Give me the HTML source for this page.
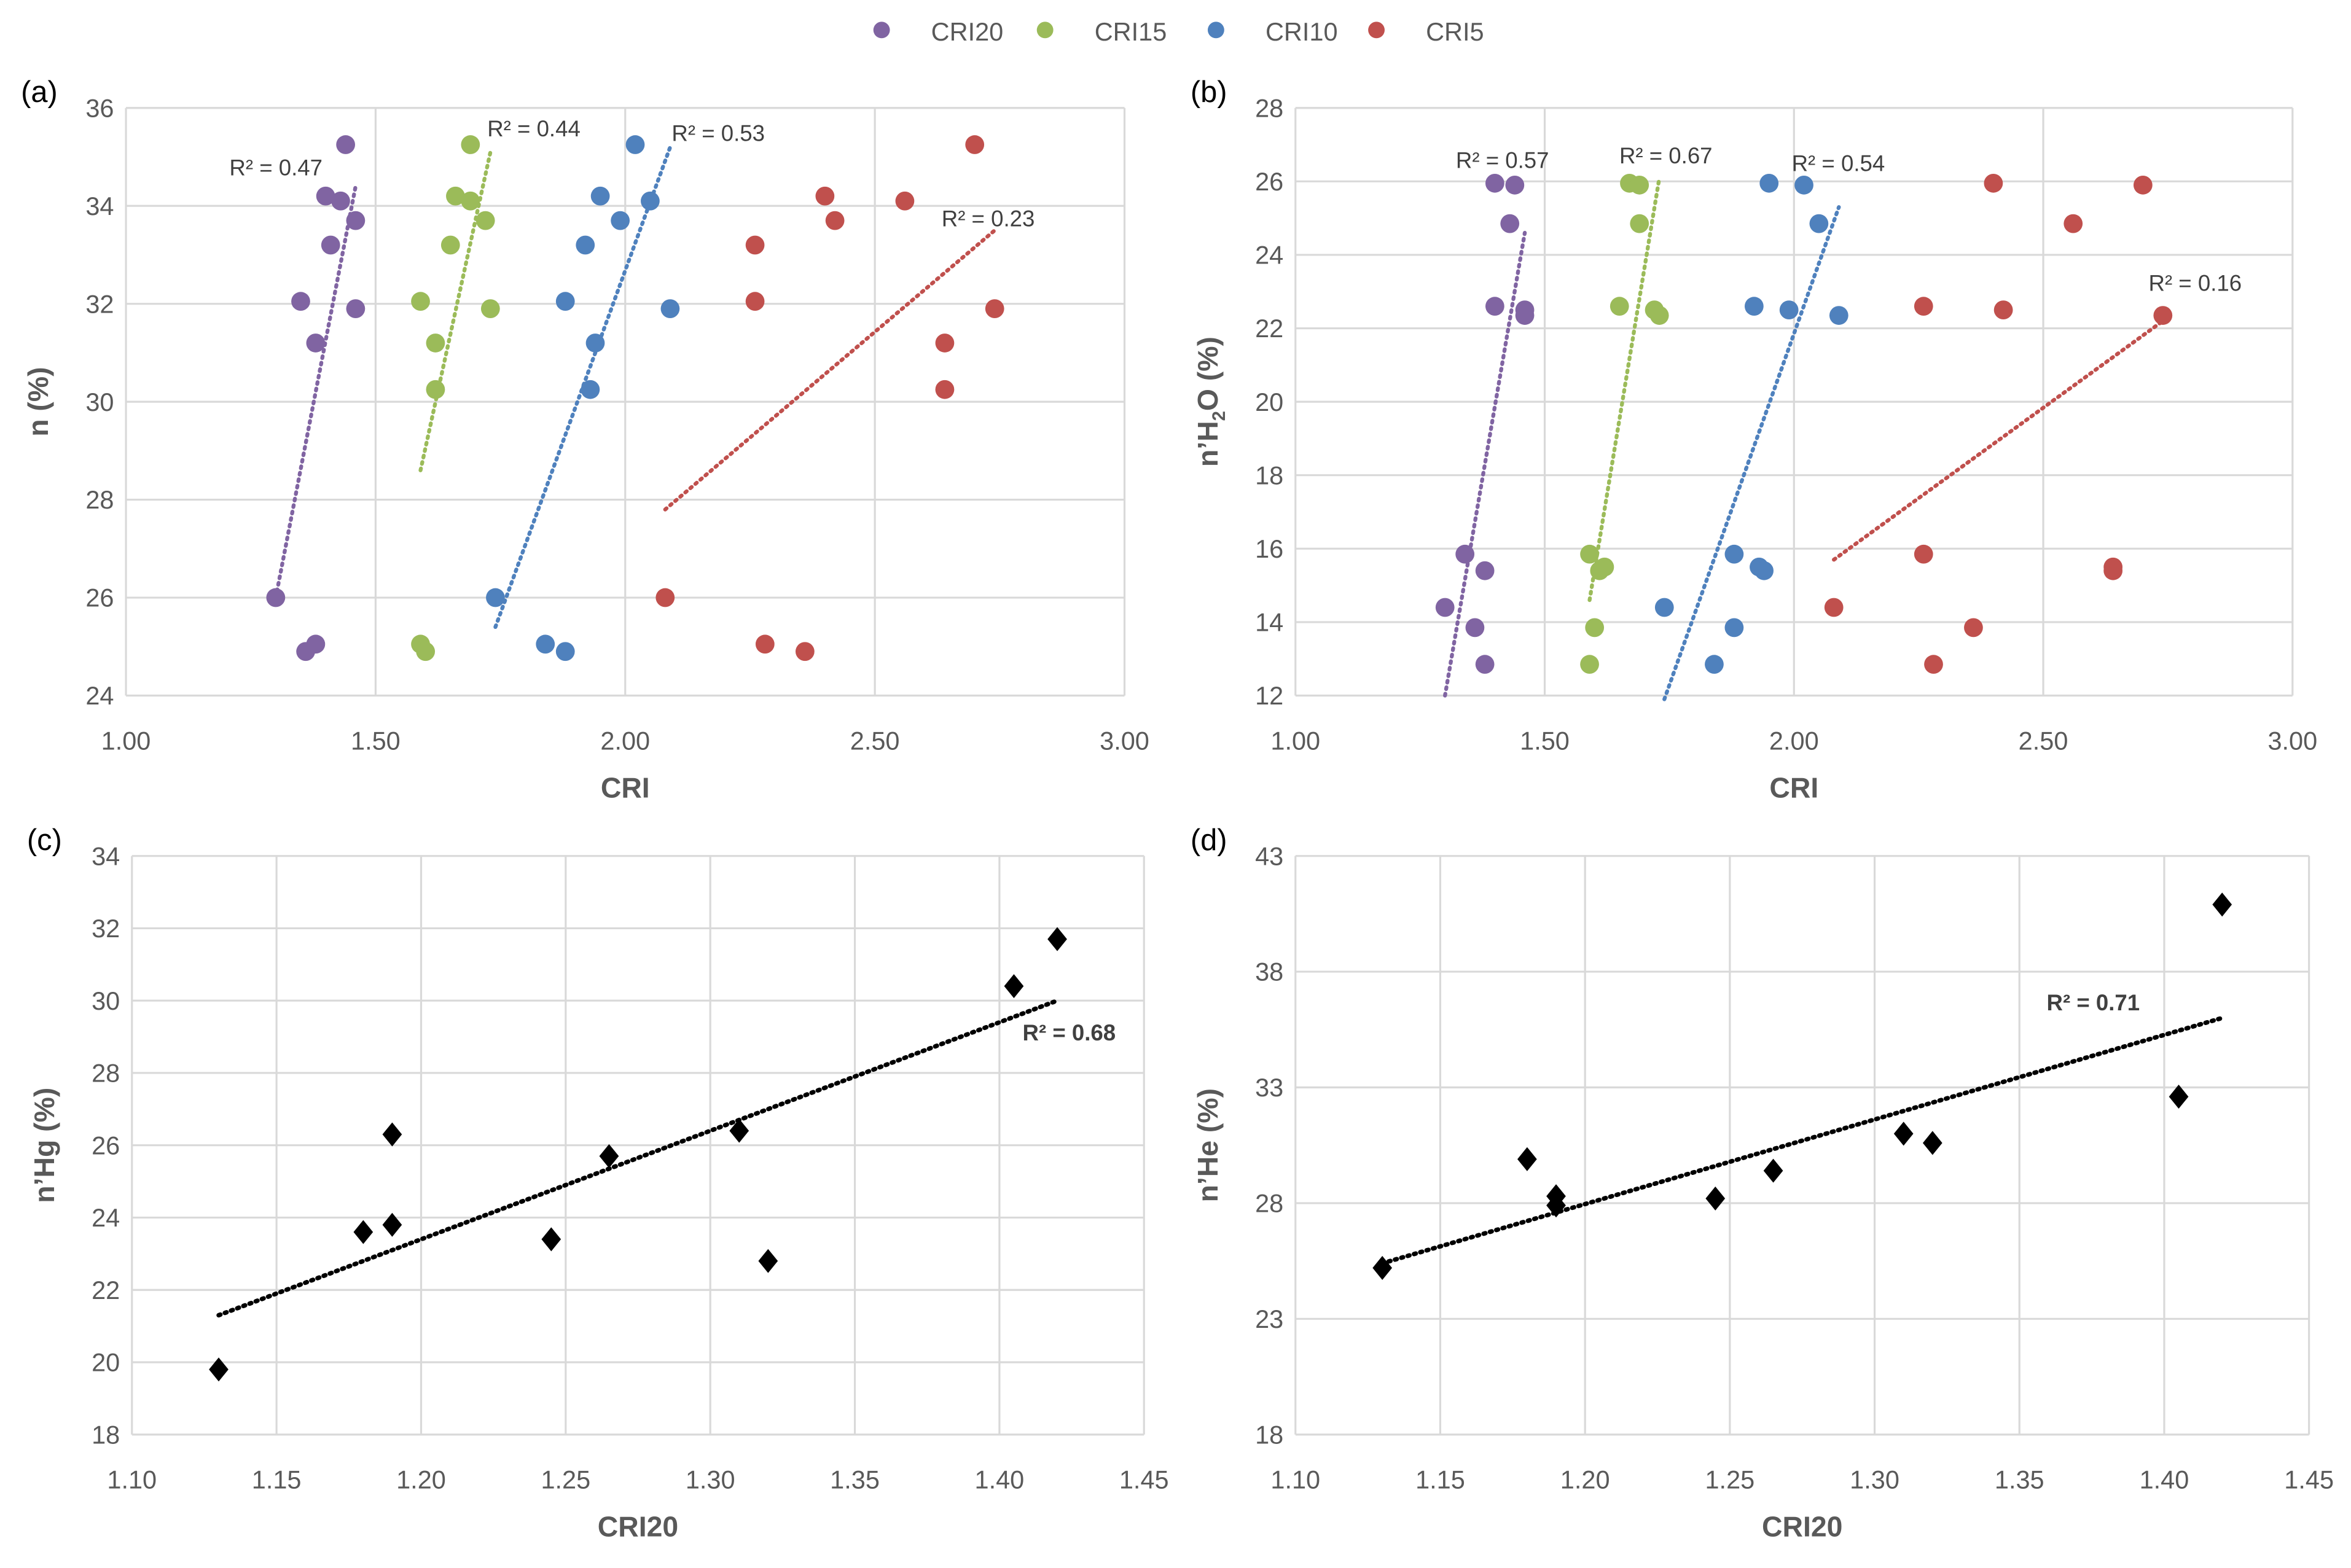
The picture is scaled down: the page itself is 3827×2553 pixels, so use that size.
<!DOCTYPE html>
<html><head><meta charset="utf-8">
<style>
html,body{margin:0;padding:0;background:#fff;}
svg{display:block;font-family:"Liberation Sans",sans-serif;}
.tick{fill:#595959;font-size:17px;}
.ttl{fill:#595959;font-size:19px;font-weight:bold;}
.r2{fill:#404040;font-size:15px;}
</style></head>
<body>
<svg id="fig" width="3827" height="2553" viewBox="0 0 1568 1046" xmlns="http://www.w3.org/2000/svg">
<g id="legend"></g>
</svg>
<script>
// ---- Panel (a) data: CRI vs n (%) ----
const aX20=[1.44,1.40,1.43,1.46,1.41,1.35,1.46,1.38,1.30,1.38,1.36];
const aY20=[35.25,34.2,34.1,33.7,33.2,32.05,31.9,31.2,26.0,25.05,24.9];
const aX15=[1.69,1.66,1.69,1.72,1.65,1.59,1.73,1.62,1.62,1.59,1.60];
const aY15=[35.25,34.2,34.1,33.7,33.2,32.05,31.9,31.2,30.25,25.05,24.9];
const aX10=[2.02,1.95,2.05,1.99,1.92,1.88,2.09,1.94,1.93,1.74,1.84,1.88];
const aY10=[35.25,34.2,34.1,33.7,33.2,32.05,31.9,31.2,30.25,26.0,25.05,24.9];
const aX5=[2.70,2.40,2.56,2.42,2.26,2.26,2.74,2.64,2.64,2.08,2.28,2.36];
const aY5=[35.25,34.2,34.1,33.7,33.2,32.05,31.9,31.2,30.25,26.0,25.05,24.9];
const aTrend=[[1.30,26.0,1.46,34.4],[1.59,28.6,1.73,35.1],[1.74,25.4,2.09,35.2],[2.08,27.8,2.74,33.5]];
const aR2=["R² = 0.47","R² = 0.44","R² = 0.53","R² = 0.23"];
// ---- Panel (b) data: CRI vs n'H2O (%) ----
const bX20=[1.40,1.44,1.43,1.40,1.46,1.46,1.34,1.38,1.30,1.36,1.38];
const bY20=[25.95,25.9,24.85,22.6,22.5,22.35,15.85,15.4,14.4,13.85,12.85];
const bX15=[1.67,1.69,1.69,1.65,1.72,1.73,1.59,1.61,1.62,1.60,1.59];
const bY15=[25.95,25.9,24.85,22.6,22.5,22.35,15.85,15.4,15.5,13.85,12.85];
const bX10=[1.95,2.02,2.05,1.92,1.99,2.09,1.88,1.93,1.94,1.74,1.88,1.84];
const bY10=[25.95,25.9,24.85,22.6,22.5,22.35,15.85,15.5,15.4,14.4,13.85,12.85];
const bX5=[2.40,2.70,2.56,2.26,2.42,2.74,2.26,2.64,2.64,2.08,2.36,2.28];
const bY5=[25.95,25.9,24.85,22.6,22.5,22.35,15.85,15.5,15.4,14.4,13.85,12.85];
const bTrend=[[1.30,12.0,1.46,24.6],[1.59,14.6,1.73,26.1],[1.74,11.9,2.09,25.3],[2.08,15.7,2.74,22.2]];
const bR2=["R² = 0.57","R² = 0.67","R² = 0.54","R² = 0.16"];
// ---- Panel (c) data: CRI20 vs n'Hg ----
const cX=[1.13,1.18,1.19,1.19,1.245,1.265,1.31,1.32,1.405,1.42];
const cY=[19.8,23.6,23.8,26.3,23.4,25.7,26.4,22.8,30.4,31.7];
const cTrend=[1.13,21.3,1.42,30.0];
// ---- Panel (d) data: CRI20 vs n'He ----
const dX=[1.13,1.18,1.19,1.19,1.245,1.265,1.31,1.32,1.405,1.42];
const dY=[25.2,29.9,28.3,27.9,28.2,29.4,31.0,30.6,32.6,40.9];
const dTrend=[1.13,25.4,1.42,36.0];
// ticks
const xTicksAB=["1.00","1.50","2.00","2.50","3.00"];
const yTicksA=["24","26","28","30","32","34","36"];
const yTicksB=["12","14","16","18","20","22","24","26","28"];
const xTicksCD=["1.10","1.15","1.20","1.25","1.30","1.35","1.40","1.45"];
const yTicksC=["18","20","22","24","26","28","30","32","34"];
const yTicksD=["18","23","28","33","38","43"];
const seriesNames=["CRI20","CRI15","CRI10","CRI5"];
const colors=["#8064A2","#9BBB59","#4F81BD","#C0504D"];

const NS="http://www.w3.org/2000/svg";
const fig=document.getElementById('fig');
function mk(tag,attrs,parent,text){const e=document.createElementNS(NS,tag);for(const k in attrs)e.setAttribute(k,attrs[k]);if(text!==undefined)e.textContent=text;(parent||fig).appendChild(e);return e;}

function panel(id,box,xt,yt,label,xtitle,ytitleNodes){
  const g=mk('g',{});
  
  
  const [L,T,R,B]=box;
  const x0=+xt[0],x1=+xt[xt.length-1],y0=+yt[0],y1=+yt[yt.length-1];
  const sx=v=>L+(v-x0)/(x1-x0)*(R-L);
  const sy=v=>B-(v-y0)/(y1-y0)*(B-T);
  xt.forEach(t=>{const x=sx(+t);
    const l=mk('line',{x1:x,x2:x,y1:T,y2:B,stroke:'#d9d9d9','stroke-width':1.3},g);
    
    
    const tx=mk('text',{x:x,y:B+36,'text-anchor':'middle',class:'tick'},g,t);
    
    });
  yt.forEach(t=>{const y=sy(+t);
    const l=mk('line',{x1:L,x2:R,y1:y,y2:y,stroke:'#d9d9d9','stroke-width':1.3},g);
    
    
    const tx=mk('text',{x:L-8,y:y+6,'text-anchor':'end',class:'tick'},g,t);
    
    });
  const pl=mk('text',{x:L-70,y:T-4,'font-size':20,fill:'#000'},g,label);
  
  
  const xtl=mk('text',{x:(L+R)/2,y:B+68,'text-anchor':'middle',class:'ttl'},g,xtitle);
  
  
  const yl=mk('text',{transform:`translate(${L-52},${(T+B)/2}) rotate(-90)`,'text-anchor':'middle',class:'ttl'},g);
  
  
  ytitleNodes.forEach(([t,sub])=>{mk('tspan',sub?{'font-size':12,dy:5}:{dy:sub===false?-5:0},yl,t);});
  return {g,sx,sy};
}
function trend(p,t,color,w){
  const l=mk('line',{x1:p.sx(t[0]),y1:p.sy(t[1]),x2:p.sx(t[2]),y2:p.sy(t[3]),stroke:color,'stroke-width':w,'stroke-dasharray':'1.2 3.2','stroke-linecap':'round'},p.g);
  
  
}
function dots(p,xs,ys,color,name){
  xs.forEach((x,i)=>{const c=mk('circle',{cx:p.sx(x),cy:p.sy(ys[i]),r:6.3,fill:color},p.g);
    
    });
}
function diamonds(p,xs,ys,name){
  xs.forEach((x,i)=>{const cx=p.sx(x),cy=p.sy(ys[i]);
    const d=mk('polygon',{points:`${cx},${cy-8} ${cx+6.5},${cy} ${cx},${cy+8} ${cx-6.5},${cy}`,fill:'#000'},p.g);
    
    });
}
function r2(p,x,y,t,bold){
  const e=mk('text',{x:x,y:y,class:'r2','font-weight':bold?'bold':'normal'},p.g,t);
  
  
}

// Panel a
const pa=panel('a',[84,72,750,464],xTicksAB,yTicksA,'(a)','CRI',[['n (%)']]);
const aXs=[aX20,aX15,aX10,aX5],aYs=[aY20,aY15,aY10,aY5];
aTrend.forEach((t,i)=>trend(pa,t,colors[i],2.6));
aXs.forEach((xs,i)=>dots(pa,xs,aYs[i],colors[i],seriesNames[i]));
r2(pa,153,117,aR2[0]);r2(pa,325,91,aR2[1]);r2(pa,448,94,aR2[2]);r2(pa,628,151,aR2[3]);

// Panel b
const pb=panel('b',[864,72,1529,464],xTicksAB,yTicksB,'(b)','CRI',[['n’H'],['2',true],['O (%)',false]]);
const bXs=[bX20,bX15,bX10,bX5],bYs=[bY20,bY15,bY10,bY5];
bTrend.forEach((t,i)=>trend(pb,t,colors[i],2.6));
bXs.forEach((xs,i)=>dots(pb,xs,bYs[i],colors[i],seriesNames[i]));
r2(pb,971,112,bR2[0]);r2(pb,1080,109,bR2[1]);r2(pb,1195,114,bR2[2]);r2(pb,1433,194,bR2[3]);

// Panel c
const pc=panel('c',[88,571,763,957],xTicksCD,yTicksC,'(c)','CRI20',[['n’Hg (%)']]);
trend(pc,cTrend,'#000',3);
diamonds(pc,cX,cY,'hg');
r2(pc,682,694,'R² = 0.68',true);

// Panel d
const pd=panel('d',[864,571,1540,957],xTicksCD,yTicksD,'(d)','CRI20',[['n’He (%)']]);
trend(pd,dTrend,'#000',3);
diamonds(pd,dX,dY,'he');
r2(pd,1365,674,'R² = 0.71',true);

// Legend
const lg=document.getElementById('legend');
const lgx=[588,697,811,918];
seriesNames.forEach((n,i)=>{
  const c=mk('circle',{cx:lgx[i],cy:20,r:5.5,fill:colors[i]},lg);
  
  
  const t=mk('text',{x:lgx[i]+33,y:27,class:'tick'},lg,n);
  
  
});
</script>
</body></html>
